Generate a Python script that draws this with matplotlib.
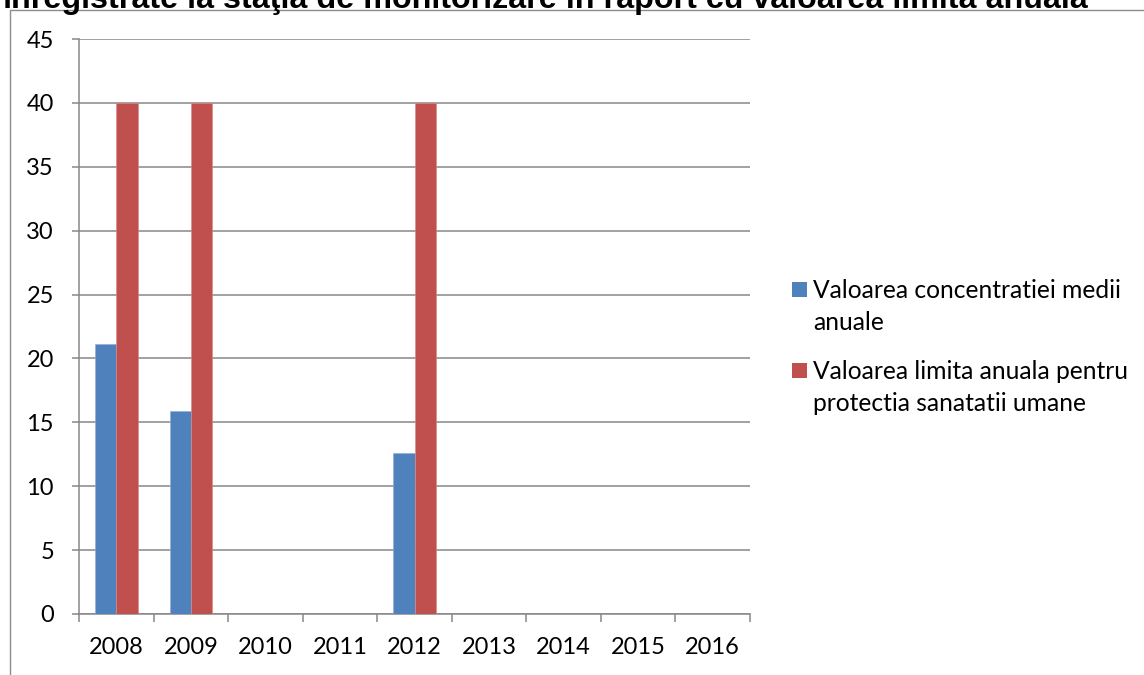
import matplotlib
matplotlib.use("Agg")
import matplotlib.pyplot as plt
import numpy as np
from matplotlib.patches import Rectangle

# Data
years = ["2008", "2009", "2010", "2011", "2012", "2013", "2014", "2015", "2016"]
concentratie_medie = [21.1, 15.9, np.nan, np.nan, 12.6, np.nan, np.nan, np.nan, np.nan]
valoare_limita = [40, 40, np.nan, np.nan, 40, np.nan, np.nan, np.nan, np.nan]
series_labels = ["Valoarea concentratiei medii\nanuale",
                 "Valoarea limita anuala pentru\nprotectia sanatatii umane"]
series_colors = ["#4F81BD", "#C0504D"]
y_ticks = [0, 5, 10, 15, 20, 25, 30, 35, 40, 45]
title = "înregistrate la staţia de monitorizare în raport cu valoarea limita anuala"

W, H = 1144, 675
fig = plt.figure(figsize=(W / 100, H / 100), dpi=100)
fig.patch.set_facecolor("white")

text_font = ["Lato", "DejaVu Sans"]
grid_color = "#878787"

# Outer chart border (extends past the right and bottom edges)
fig.add_artist(Rectangle((10 / W, -0.1), 1.2, 1 - 10 / H + 0.1,
                         transform=fig.transFigure, fill=False,
                         edgecolor="#8c8c8c", lw=1.0))

# Title, partially clipped at the top
fig.text(2 / W, 1 - 8 / H, title, ha="left", va="baseline",
         fontsize=23.2, fontweight="bold", family=["Liberation Sans", "DejaVu Sans"])

ax = fig.add_axes([79 / W, 1 - 614 / H, (750 - 79) / W, (614 - 39) / H])

x = np.arange(len(years))
bw = 1 / 3.5
ax.bar(x - bw / 2, concentratie_medie, width=bw, color=series_colors[0],
       edgecolor="#8eaed6", linewidth=0.4, zorder=3)
ax.bar(x + bw / 2, valoare_limita, width=bw, color=series_colors[1],
       edgecolor="#d98a88", linewidth=0.4, zorder=3)

ax.set_xlim(-0.5, len(years) - 0.5)
ax.set_ylim(0, 45)
ax.set_yticks(y_ticks)
ax.set_yticklabels([str(v) for v in y_ticks], family=text_font, fontsize=17)
ax.yaxis.grid(True, color=grid_color, lw=1.1, zorder=0)
ax.set_axisbelow(True)

ax.set_xticks(x)
ax.set_xticklabels(years, family=text_font, fontsize=17)
ax.set_xticks(np.arange(len(years) + 1) - 0.5, minor=True)
ax.tick_params(axis="x", which="major", length=0, pad=16.5)
ax.tick_params(axis="x", which="minor", length=6, width=1.1, color=grid_color)
ax.tick_params(axis="y", length=5, width=1.1, color=grid_color, pad=13)

for s in ["top", "right"]:
    ax.spines[s].set_visible(False)
for s in ["left", "bottom"]:
    ax.spines[s].set_color(grid_color)
    ax.spines[s].set_linewidth(1.1)

# Legend drawn at the right of the plot
legend_rows = [289, 370]
for label, color, yc in zip(series_labels, series_colors, legend_rows):
    fig.add_artist(Rectangle((792 / W, 1 - (yc + 7.5) / H), 15 / W, 15 / H,
                             transform=fig.transFigure, facecolor=color,
                             edgecolor="none"))
    fig.text(813 / W, 1 - (yc - 10) / H, label, ha="left", va="top",
             fontsize=17.7, family=text_font, linespacing=1.49)

fig.savefig("out.png", dpi=100)
